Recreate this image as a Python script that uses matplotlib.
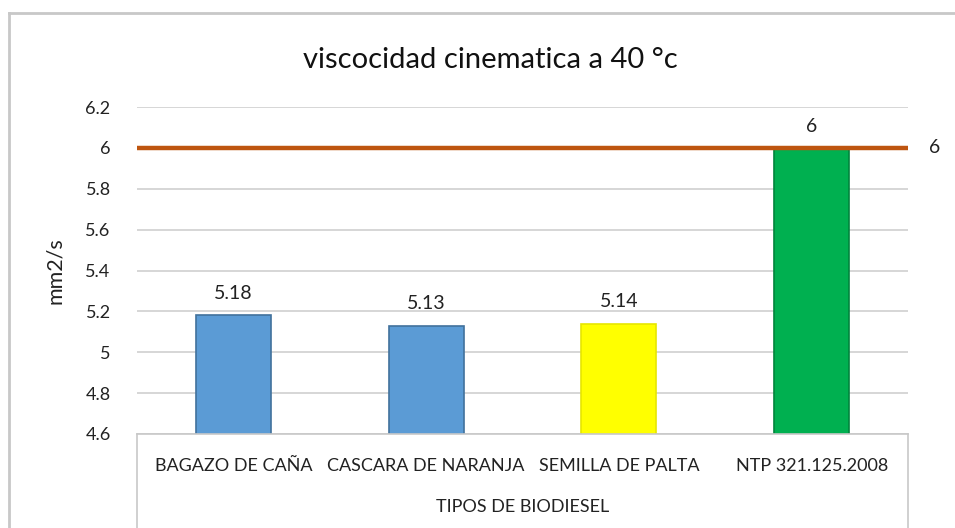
import matplotlib.pyplot as plt
from matplotlib.lines import Line2D

plt.rcParams['font.family'] = ['Lato', 'DejaVu Sans']

categories = ['BAGAZO DE CAÑA', 'CASCARA DE NARANJA', 'SEMILLA DE PALTA', 'NTP 321.125.2008']
values = [5.18, 5.13, 5.14, 6]
limit_value = 6
yticks = [4.6, 4.8, 5, 5.2, 5.4, 5.6, 5.8, 6, 6.2]
ytick_labels = ['4.6', '4.8', '5', '5.2', '5.4', '5.6', '5.8', '6', '6.2']

colors = ['#5B9BD5', '#5B9BD5', '#FFFF00', '#00B050']
edges = ['#41719C', '#41719C', '#E6E600', '#00843C']

fig = plt.figure(figsize=(9.55, 5.28), dpi=100)
ax = fig.add_axes([137 / 955, 1 - 434 / 528, (908 - 137) / 955, (434 - 107) / 528])

x = list(range(len(categories)))
ax.bar(x, values, width=0.39, color=colors, edgecolor=edges, linewidth=1.2, zorder=2)
for xi, v in zip(x, values):
    ax.text(xi, v + 0.065, f'{v:g}', ha='center', va='bottom', fontsize=14, color='#222222')

ax.plot([-0.5, len(categories) - 0.5], [limit_value, limit_value], color='#BE5510', lw=3.2, zorder=3)
ax.text(len(categories) - 0.5 + 0.11, limit_value, f'{limit_value:g}', ha='left', va='center',
        fontsize=14, color='#222222')

ax.set_xlim(-0.5, len(categories) - 0.5)
ax.set_ylim(4.6, 6.2)
ax.set_yticks(yticks)
ax.set_yticklabels(ytick_labels, fontsize=13, color='#222222')
ax.yaxis.grid(True, color='#D0D0D0', lw=1.2, zorder=0)
ax.tick_params(axis='y', length=0, pad=19)
ax.set_xticks([])
for s in ax.spines.values():
    s.set_visible(False)
ax.set_ylabel('mm2/s', fontsize=15.5, color='#222222', labelpad=15)

# category table lines below the plot
fig.add_artist(Line2D([137 / 955, 908 / 955], [1 - 434 / 528] * 2, color='#C8C8C8', lw=1.2))
fig.add_artist(Line2D([137 / 955] * 2, [0, 1 - 434 / 528], color='#C8C8C8', lw=1.2))
fig.add_artist(Line2D([908 / 955] * 2, [0, 1 - 434 / 528], color='#C8C8C8', lw=1.2))
for xi, c in zip(x, categories):
    fig.text((137 + (xi + 0.5) * (908 - 137) / 4) / 955, 1 - 466 / 528, c,
             ha='center', va='center', fontsize=13, color='#222222')
fig.text((137 + 908) / 2 / 955, 1 - 507 / 528, 'TIPOS DE BIODIESEL',
         ha='center', va='center', fontsize=13, color='#222222')

fig.text(490 / 955, 1 - 60 / 528, 'viscocidad cinematica a 40 °c', ha='center', va='center',
         fontsize=21, color='#111111')

# chart border
fig.add_artist(Line2D([9 / 955, 1], [1 - 13 / 528] * 2, color='#C8C8C8', lw=2))
fig.add_artist(Line2D([9 / 955] * 2, [0, 1 - 13 / 528], color='#C8C8C8', lw=2))

fig.savefig('out.png', dpi=100)
